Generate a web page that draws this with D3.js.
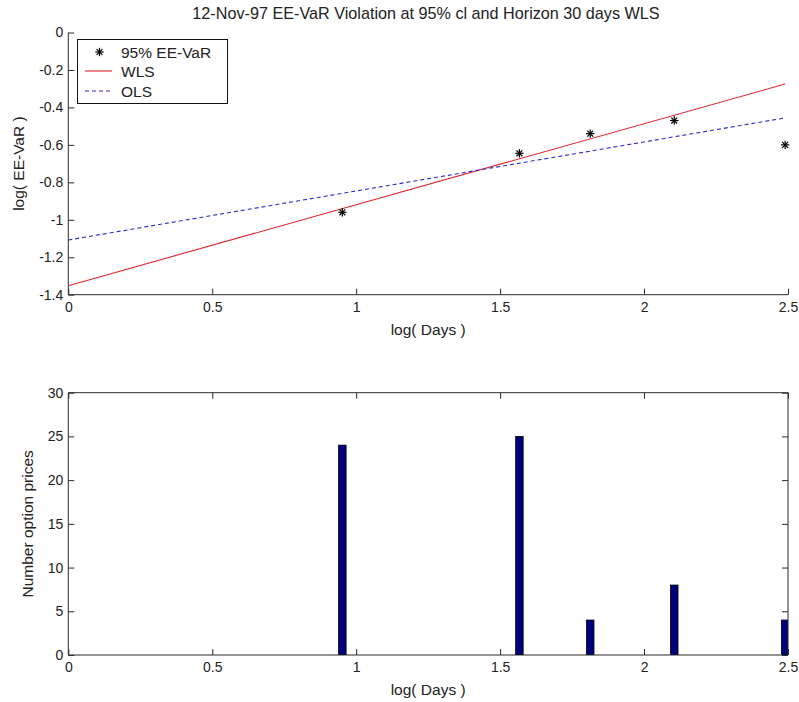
<!DOCTYPE html>
<html>
<head>
<meta charset="utf-8">
<script src="https://cdn.jsdelivr.net/npm/d3@7"></script>
<style>
  html, body { margin: 0; padding: 0; background: #fff; }
  svg { display: block; }
  text { font-family: "Liberation Sans", Arial, Helvetica, sans-serif; fill: #222; }
</style>
</head>
<body>
<svg id="chart" width="799" height="702"></svg>
<script>
// log(Days) horizons and observed EE-VaR violation levels
const logDays = [0.952, 1.567, 1.813, 2.105, 2.490];
const logVaR = [-0.96, -0.645, -0.54, -0.47, -0.60];
// number of option prices behind each horizon
const optionCounts = [24, 25, 4, 8, 4];
// fitted regression lines, given by their end points [logDays, logVaR]
const wlsLine = [[0, -1.352], [2.49, -0.275]];
const olsLine = [[0, -1.108], [2.49, -0.456]];
// tick values
const xTicks = [0, 0.5, 1, 1.5, 2, 2.5];
const yTicksTop = [0, -0.2, -0.4, -0.6, -0.8, -1, -1.2, -1.4];
const yTicksBottom = [0, 5, 10, 15, 20, 25, 30];

const titleText = "12-Nov-97 EE-VaR Violation at 95% cl and Horizon 30 days WLS";
const legendLabels = ["95% EE-VaR", "WLS", "OLS"];

const svg = d3.select("#chart");
const axisColor = "#2a2a2a";
const labelSize = 15.5;
const titleSize = 16.2;
const tickSize = 14;
const tickLen = 6;

const left = 68.3, right = 788;
const top1 = 32.5, bottom1 = 294.7;
const top2 = 392.7, bottom2 = 655;

const x1 = d3.scaleLinear().domain([0, 2.5]).range([left, right]);
const y1 = d3.scaleLinear().domain([-1.4, 0]).range([bottom1, top1]);
const x2 = d3.scaleLinear().domain([0, 2.5]).range([left, right]);
const y2 = d3.scaleLinear().domain([0, 30]).range([bottom2, top2]);

const fmt = v => String(+v.toFixed(2));

function styleAxis(sel) {
  sel.attr("font-family", null).attr("font-size", null);
  sel.select(".domain").attr("stroke", axisColor).attr("stroke-width", 1);
  sel.selectAll(".tick line").attr("stroke", axisColor).attr("stroke-width", 1);
  sel.selectAll(".tick text").attr("fill", "#222").style("font-size", tickSize + "px");
}

// ---------- upper panel: EE-VaR against log(Days) ----------
const g1 = svg.append("g");

// axes (left and bottom only, ticks pointing inward)
g1.append("g").attr("transform", `translate(0,${bottom1})`)
  .call(d3.axisBottom(x1).tickValues(xTicks).tickSize(-tickLen).tickPadding(7).tickFormat(fmt))
  .call(s => s.select(".domain").attr("d", `M${left},0H${right}`)).call(styleAxis);
g1.append("g").attr("transform", `translate(${left},0)`)
  .call(d3.axisLeft(y1).tickValues(yTicksTop).tickSize(-tickLen).tickPadding(5).tickFormat(fmt))
  .call(s => s.select(".domain").attr("d", `M0,${top1}V${bottom1}`)).call(styleAxis);

const line1 = d3.line().x(d => x1(d[0])).y(d => y1(d[1]));

g1.append("path").datum(wlsLine).attr("d", line1)
  .attr("fill", "none").attr("stroke", "#e0252d").attr("stroke-width", 1.1);
g1.append("path").datum(olsLine).attr("d", line1)
  .attr("fill", "none").attr("stroke", "#2a2ad0").attr("stroke-width", 1.1)
  .attr("stroke-dasharray", "4,3");

// asterisk markers
function drawStar(g, cx, cy) {
  const r = 4.2;
  const s = g.append("g").attr("transform", `translate(${cx},${cy})`)
    .attr("stroke", "#000").attr("stroke-width", 1.2);
  s.append("line").attr("x1", -r).attr("x2", r).attr("y1", 0).attr("y2", 0);
  s.append("line").attr("x1", 0).attr("x2", 0).attr("y1", -r).attr("y2", r);
  const d = r * 0.7;
  s.append("line").attr("x1", -d).attr("x2", d).attr("y1", -d).attr("y2", d);
  s.append("line").attr("x1", -d).attr("x2", d).attr("y1", d).attr("y2", -d);
}
logDays.forEach((v, i) => drawStar(g1, x1(v), y1(logVaR[i])));

// title and axis labels
svg.append("text").attr("x", 426).attr("y", 19)
  .attr("text-anchor", "middle").style("font-size", titleSize + "px").text(titleText);
svg.append("text").attr("x", (left + right) / 2).attr("y", 335)
  .attr("text-anchor", "middle").style("font-size", labelSize + "px").text("log( Days )");
svg.append("text").attr("transform", `translate(24,${(top1 + bottom1) / 2}) rotate(-90)`)
  .attr("text-anchor", "middle").style("font-size", labelSize + "px").text("log( EE-VaR )");

// legend
const lg = svg.append("g");
lg.append("rect").attr("x", 77.5).attr("y", 39.5).attr("width", 150).attr("height", 64)
  .attr("fill", "#fff").attr("stroke", "#111").attr("stroke-width", 1);
const rowY = [52, 71, 91];
drawStar(lg, 99.5, rowY[0]);
lg.append("line").attr("x1", 85).attr("x2", 112).attr("y1", rowY[1]).attr("y2", rowY[1])
  .attr("stroke", "#e0252d").attr("stroke-width", 1.1);
lg.append("line").attr("x1", 85).attr("x2", 112).attr("y1", rowY[2]).attr("y2", rowY[2])
  .attr("stroke", "#2a2ad0").attr("stroke-width", 1.1).attr("stroke-dasharray", "4,3");
legendLabels.forEach((t, i) => {
  lg.append("text").attr("x", 121).attr("y", rowY[i]).attr("dy", "0.36em")
    .style("font-size", labelSize + "px").text(t);
});

// ---------- lower panel: option price counts ----------
const g2 = svg.append("g");
const clipId = "clip2";
svg.append("defs").append("clipPath").attr("id", clipId)
  .append("rect").attr("x", left).attr("y", top2).attr("width", right - left).attr("height", bottom2 - top2);

const barW = 7.5;
g2.append("g").attr("clip-path", `url(#${clipId})`)
  .selectAll("rect").data(optionCounts).join("rect")
  .attr("x", (d, i) => x2(logDays[i]) - barW / 2)
  .attr("y", d => y2(d))
  .attr("width", barW)
  .attr("height", d => y2(0) - y2(d))
  .attr("fill", "#00007f").attr("stroke", "#000").attr("stroke-width", 0.8);

// boxed axes with inward ticks on all four sides
g2.append("g").attr("transform", `translate(0,${bottom2})`)
  .call(d3.axisBottom(x2).tickValues(xTicks).tickSize(-tickLen).tickPadding(7).tickFormat(fmt))
  .call(s => s.select(".domain").attr("d", `M${left},0H${right}`)).call(styleAxis);
g2.append("g").attr("transform", `translate(0,${top2})`)
  .call(d3.axisTop(x2).tickValues(xTicks).tickSize(-tickLen).tickFormat(""))
  .call(s => s.select(".domain").attr("d", `M${left},0H${right}`)).call(styleAxis);
g2.append("g").attr("transform", `translate(${left},0)`)
  .call(d3.axisLeft(y2).tickValues(yTicksBottom).tickSize(-tickLen).tickPadding(5).tickFormat(fmt))
  .call(s => s.select(".domain").attr("d", `M0,${top2}V${bottom2}`)).call(styleAxis);
g2.append("g").attr("transform", `translate(${right},0)`)
  .call(d3.axisRight(y2).tickValues(yTicksBottom).tickSize(-tickLen).tickFormat(""))
  .call(s => s.select(".domain").attr("d", `M0,${top2}V${bottom2}`)).call(styleAxis);

svg.append("text").attr("x", (left + right) / 2).attr("y", 695)
  .attr("text-anchor", "middle").style("font-size", labelSize + "px").text("log( Days )");
svg.append("text").attr("transform", `translate(33,${(top2 + bottom2) / 2}) rotate(-90)`)
  .attr("text-anchor", "middle").style("font-size", labelSize + "px").text("Number option prices");
</script>
</body>
</html>
